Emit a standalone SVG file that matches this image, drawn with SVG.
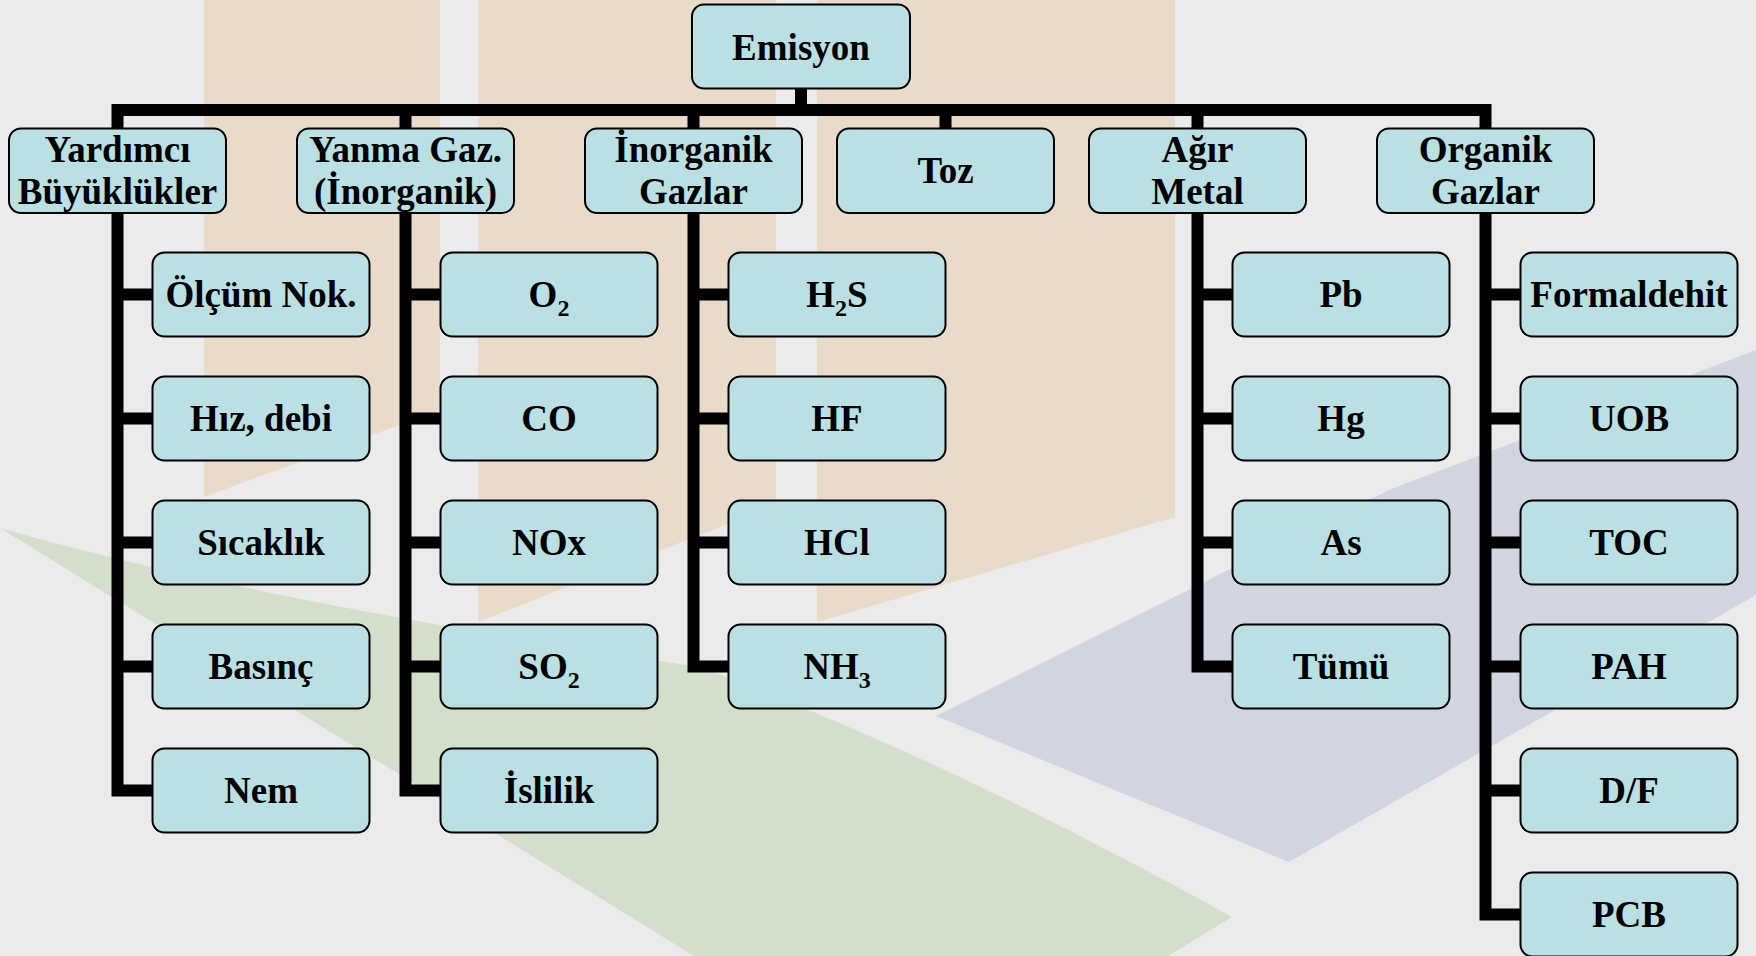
<svg xmlns="http://www.w3.org/2000/svg" width="1756" height="956" viewBox="0 0 1756 956">
<style>
.box{fill:#BAE0E3;stroke:#000;stroke-width:2}
.lbl{font-family:"Liberation Serif","Times New Roman",serif;font-weight:bold;font-size:37px;text-anchor:middle;fill:#000}
.sub{font-size:24px}
.conn{fill:none;stroke:#000;stroke-width:12;stroke-linejoin:miter;stroke-linecap:butt}
</style>
<g id="background">
<rect x="0" y="0" width="1756" height="956" fill="#EBEBEB"/>
<polygon points="204,0 440,0 440,410 204,497" fill="#E8DBCA"/>
<polygon points="478,0 776,0 776,505 478,622" fill="#E8DBCA"/>
<polygon points="817,0 1175,0 1175,517 817,622" fill="#E8DBCA"/>
<path d="M0,528 Q250,600 700,667 Q960,765 1232,917 L1168,956 L694,956 Z" fill="#D3DECB"/>
<polygon points="936,716 1389,490 1756,350 1756,595 1289,862" fill="#D0D5E0"/>
</g>
<g id="connectors">
<path class="conn" d="M117.5,128 V110 H1485.5 V128"/>
<path class="conn" d="M801,88 V110"/>
<path class="conn" d="M405.5,110 V128 M693.5,110 V128 M945.5,110 V128 M1197.5,110 V128"/>
<path class="conn" d="M117.5,212 V790.5 H152.5 M117.5,294.5 H152.5 M117.5,418.5 H152.5 M117.5,542.5 H152.5 M117.5,666.5 H152.5"/>
<path class="conn" d="M405.5,212 V790.5 H440.5 M405.5,294.5 H440.5 M405.5,418.5 H440.5 M405.5,542.5 H440.5 M405.5,666.5 H440.5"/>
<path class="conn" d="M693.5,212 V666.5 H728.5 M693.5,294.5 H728.5 M693.5,418.5 H728.5 M693.5,542.5 H728.5"/>
<path class="conn" d="M1197.5,212 V666.5 H1232.5 M1197.5,294.5 H1232.5 M1197.5,418.5 H1232.5 M1197.5,542.5 H1232.5"/>
<path class="conn" d="M1485.5,212 V914.5 H1520.5 M1485.5,294.5 H1520.5 M1485.5,418.5 H1520.5 M1485.5,542.5 H1520.5 M1485.5,666.5 H1520.5 M1485.5,790.5 H1520.5"/>
</g>
<g id="n-emisyon"><rect class="box" x="692" y="4.5" width="218" height="84" rx="12"/><text class="lbl" x="801" y="60">Emisyon</text></g>
<g id="n-yardimci"><rect class="box" x="9" y="128.5" width="217" height="84.5" rx="12"/><text class="lbl" x="117.5" y="162">Yardımcı</text><text class="lbl" x="117.5" y="204">Büyüklükler</text></g>
<g id="n-yanma"><rect class="box" x="297" y="128.5" width="217" height="84.5" rx="12"/><text class="lbl" x="405.5" y="162">Yanma Gaz.</text><text class="lbl" x="405.5" y="204">(İnorganik)</text></g>
<g id="n-inorganik"><rect class="box" x="585" y="128.5" width="217" height="84.5" rx="12"/><text class="lbl" x="693.5" y="162">İnorganik</text><text class="lbl" x="693.5" y="204">Gazlar</text></g>
<g id="n-toz"><rect class="box" x="837" y="128.5" width="217" height="84.5" rx="12"/><text class="lbl" x="945.5" y="183">Toz</text></g>
<g id="n-agir"><rect class="box" x="1089" y="128.5" width="217" height="84.5" rx="12"/><text class="lbl" x="1197.5" y="162">Ağır</text><text class="lbl" x="1197.5" y="204">Metal</text></g>
<g id="n-organik"><rect class="box" x="1377" y="128.5" width="217" height="84.5" rx="12"/><text class="lbl" x="1485.5" y="162">Organik</text><text class="lbl" x="1485.5" y="204">Gazlar</text></g>

<g id="n-olcum"><rect class="box" x="152.5" y="252.5" width="217" height="84" rx="12"/><text class="lbl" x="261" y="307">Ölçüm Nok.</text></g>
<g id="n-hiz"><rect class="box" x="152.5" y="376.5" width="217" height="84" rx="12"/><text class="lbl" x="261" y="431">Hız, debi</text></g>
<g id="n-sicaklik"><rect class="box" x="152.5" y="500.5" width="217" height="84" rx="12"/><text class="lbl" x="261" y="555">Sıcaklık</text></g>
<g id="n-basinc"><rect class="box" x="152.5" y="624.5" width="217" height="84" rx="12"/><text class="lbl" x="261" y="679">Basınç</text></g>
<g id="n-nem"><rect class="box" x="152.5" y="748.5" width="217" height="84" rx="12"/><text class="lbl" x="261" y="803">Nem</text></g>

<g id="n-o2"><rect class="box" x="440.5" y="252.5" width="217" height="84" rx="12"/><text class="lbl" x="549" y="307">O<tspan class="sub" dy="9">2</tspan></text></g>
<g id="n-co"><rect class="box" x="440.5" y="376.5" width="217" height="84" rx="12"/><text class="lbl" x="549" y="431">CO</text></g>
<g id="n-nox"><rect class="box" x="440.5" y="500.5" width="217" height="84" rx="12"/><text class="lbl" x="549" y="555">NOx</text></g>
<g id="n-so2"><rect class="box" x="440.5" y="624.5" width="217" height="84" rx="12"/><text class="lbl" x="549" y="679">SO<tspan class="sub" dy="9">2</tspan></text></g>
<g id="n-islilik"><rect class="box" x="440.5" y="748.5" width="217" height="84" rx="12"/><text class="lbl" x="549" y="803">İslilik</text></g>

<g id="n-h2s"><rect class="box" x="728.5" y="252.5" width="217" height="84" rx="12"/><text class="lbl" x="837" y="307">H<tspan class="sub" dy="9">2</tspan><tspan dy="-9">S</tspan></text></g>
<g id="n-hf"><rect class="box" x="728.5" y="376.5" width="217" height="84" rx="12"/><text class="lbl" x="837" y="431">HF</text></g>
<g id="n-hcl"><rect class="box" x="728.5" y="500.5" width="217" height="84" rx="12"/><text class="lbl" x="837" y="555">HCl</text></g>
<g id="n-nh3"><rect class="box" x="728.5" y="624.5" width="217" height="84" rx="12"/><text class="lbl" x="837" y="679">NH<tspan class="sub" dy="9">3</tspan></text></g>

<g id="n-pb"><rect class="box" x="1232.5" y="252.5" width="217" height="84" rx="12"/><text class="lbl" x="1341" y="307">Pb</text></g>
<g id="n-hg"><rect class="box" x="1232.5" y="376.5" width="217" height="84" rx="12"/><text class="lbl" x="1341" y="431">Hg</text></g>
<g id="n-as"><rect class="box" x="1232.5" y="500.5" width="217" height="84" rx="12"/><text class="lbl" x="1341" y="555">As</text></g>
<g id="n-tumu"><rect class="box" x="1232.5" y="624.5" width="217" height="84" rx="12"/><text class="lbl" x="1341" y="679">Tümü</text></g>

<g id="n-formaldehit"><rect class="box" x="1520.5" y="252.5" width="217" height="84" rx="12"/><text class="lbl" x="1629" y="307">Formaldehit</text></g>
<g id="n-uob"><rect class="box" x="1520.5" y="376.5" width="217" height="84" rx="12"/><text class="lbl" x="1629" y="431">UOB</text></g>
<g id="n-toc"><rect class="box" x="1520.5" y="500.5" width="217" height="84" rx="12"/><text class="lbl" x="1629" y="555">TOC</text></g>
<g id="n-pah"><rect class="box" x="1520.5" y="624.5" width="217" height="84" rx="12"/><text class="lbl" x="1629" y="679">PAH</text></g>
<g id="n-df"><rect class="box" x="1520.5" y="748.5" width="217" height="84" rx="12"/><text class="lbl" x="1629" y="803">D/F</text></g>
<g id="n-pcb"><rect class="box" x="1520.5" y="872.5" width="217" height="84" rx="12"/><text class="lbl" x="1629" y="927">PCB</text></g>
</svg>
